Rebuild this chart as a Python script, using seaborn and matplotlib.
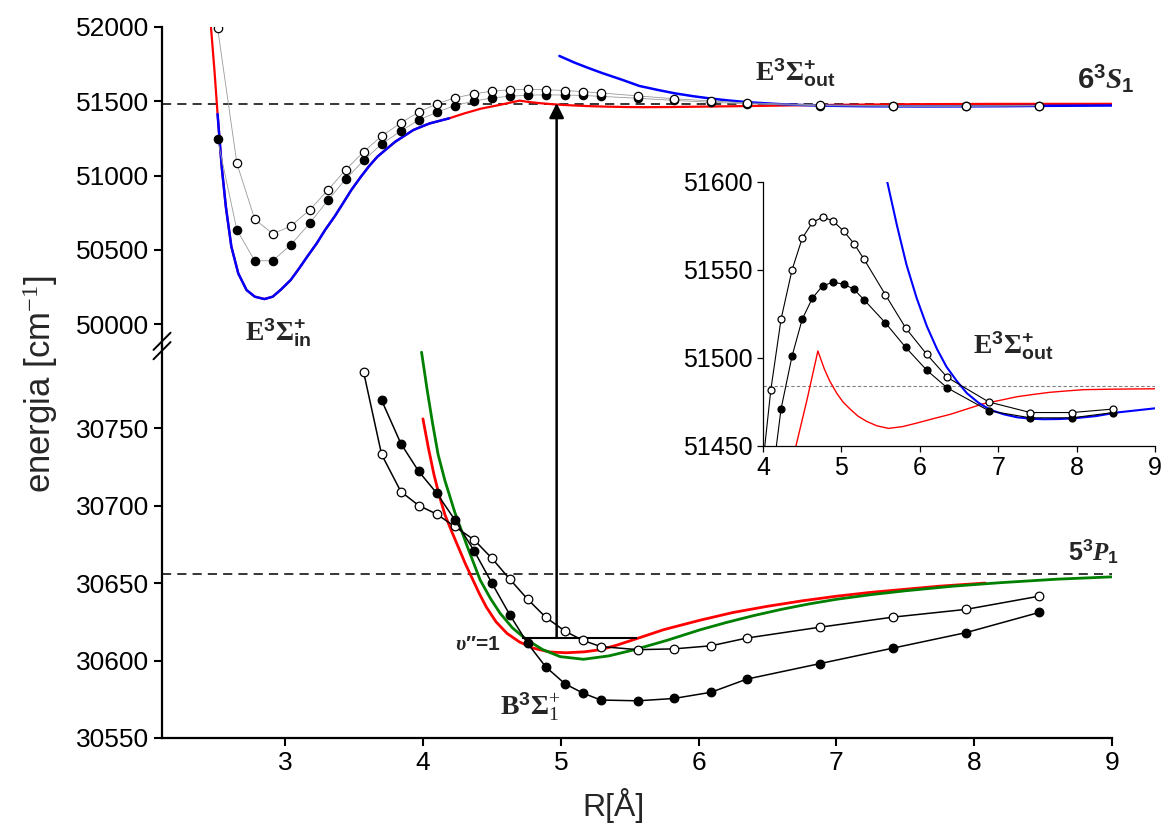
import matplotlib
matplotlib.use("Agg")
import matplotlib.pyplot as plt
from matplotlib.patches import ConnectionPatch
import seaborn as sns

# -------------------
# Data  (R in Angstrom, energies in cm^-1)
# -------------------
# upper state E3Sigma+ : ab initio points
R_up = [2.51, 2.65, 2.78, 2.91, 3.04, 3.18, 3.31, 3.44, 3.57, 3.70, 3.84, 3.97, 4.10, 4.23,
        4.37, 4.50, 4.63, 4.76, 4.89, 5.03, 5.16, 5.29, 5.56, 5.82, 6.09, 6.35, 6.88, 7.41,
        7.94, 8.47]
E_up_open = [51995, 51082, 50705, 50608, 50658, 50770, 50902, 51039, 51160, 51266, 51354,
             51428, 51482, 51522, 51550, 51568, 51577, 51580, 51578, 51572, 51565, 51556,
             51536, 51517, 51502, 51489, 51475, 51469, 51469, 51471]
E_up_full = [51244, 50633, 50426, 50426, 50532, 50680, 50833, 50976, 51102, 51212, 51300,
             51374, 51425, 51471, 51501, 51522, 51534, 51541, 51543, 51542, 51539, 51533,
             51520, 51506, 51493, 51483, 51470, 51466, 51466, 51469]

# inner well (red and blue coincide)
well_R = [2.51, 2.54, 2.57, 2.61, 2.66, 2.72, 2.78, 2.85, 2.91, 2.97, 3.04, 3.10, 3.16,
          3.23, 3.29, 3.36, 3.42, 3.48, 3.55, 3.61, 3.67, 3.74, 3.80, 3.87, 3.93, 4.00,
          4.05, 4.12, 4.19]
well_E = [51414, 51059, 50790, 50521, 50341, 50229, 50184, 50168, 50184, 50232, 50296,
          50372, 50453, 50544, 50633, 50725, 50813, 50902, 50992, 51064, 51127, 51182,
          51228, 51270, 51306, 51333, 51351, 51368, 51385]
red_head_R = [2.462, 2.488]
red_head_E = [52000, 51700]
red_bar_R = [4.30, 4.42, 4.56, 4.70, 4.78, 4.85, 4.94, 5.02, 5.11, 5.21, 5.32, 5.45, 5.60,
             5.78, 5.96, 6.17, 6.39, 6.60, 6.81, 7.03, 7.24, 7.45, 7.66, 7.88, 8.09, 8.50,
             9.00]
red_bar_E = [51418, 51450, 51476, 51504, 51494, 51487, 51480, 51475, 51471, 51467, 51464,
             51461.5, 51460, 51461, 51463, 51465.5, 51468, 51471, 51474, 51476, 51478,
             51479.3, 51480.5, 51481.3, 51482, 51482.3, 51482.5]

# outer well E3Sigma+_out (blue)
out_R = [4.99, 5.10, 5.20, 5.30, 5.45, 5.57, 5.71, 5.83, 5.96, 6.09, 6.22, 6.34, 6.47,
         6.60, 6.75, 6.90, 7.07, 7.24, 7.41, 7.58, 7.77, 7.96, 8.25, 8.51, 9.00]
out_E = [51805, 51760, 51724, 51690, 51643, 51603, 51575, 51553, 51534, 51518, 51505,
         51495, 51487, 51480, 51474.5, 51470.5, 51468, 51466.3, 51465.5, 51465.2, 51465.3,
         51465.7, 51467, 51469, 51471.4]

# lower state B3Sigma+_1 : ab initio points
R_low = [3.57, 3.70, 3.84, 3.97, 4.10, 4.23, 4.37, 4.50, 4.63, 4.76, 4.89, 5.03, 5.16,
         5.29, 5.56, 5.82, 6.09, 6.35, 6.88, 7.41, 7.94, 8.47]
E_low_open = [30786, 30733, 30709, 30700, 30694.5, 30686.5, 30678, 30666, 30652.5,
              30639.5, 30628, 30619, 30613, 30609, 30607, 30607.5, 30609.5, 30614.5,
              30621.5, 30628, 30633, 30641.5]
R_low_full = R_low[1:]
E_low_full = [30768, 30740, 30722, 30708, 30691, 30671, 30650, 30629.5, 30611, 30596,
              30585, 30579, 30574.5, 30574, 30575.5, 30579.5, 30588, 30598, 30608, 30618,
              30631]

redB_R = [4.00, 4.04, 4.08, 4.12, 4.16, 4.21, 4.26, 4.31, 4.36, 4.41, 4.46, 4.53, 4.61,
          4.70, 4.80, 4.92, 5.04, 5.17, 5.29, 5.41, 5.53, 5.75, 6.01, 6.25, 6.50, 6.75,
          7.00, 7.25, 7.50, 7.75, 8.08]
redB_E = [30756, 30737, 30720, 30706, 30694, 30683, 30672.5, 30662, 30652.5, 30643,
          30634.5, 30625, 30617.5, 30612, 30608, 30605.5, 30605, 30605.6, 30607, 30610,
          30613.5, 30620, 30626, 30631, 30635, 30638.5, 30641.5, 30644, 30646, 30648,
          30650]
greenB_R = [3.99, 4.03, 4.07, 4.11, 4.16, 4.23, 4.32, 4.415, 4.49, 4.56, 4.65, 4.754,
            4.87, 4.996, 5.165, 5.35, 5.527, 5.77, 6.01, 6.20, 6.40, 6.60, 6.80, 7.00,
            7.25, 7.50, 7.85, 8.20, 8.60, 9.00]
greenB_E = [30799, 30775, 30753, 30733, 30716, 30696, 30674, 30652, 30640, 30630.5,
            30621, 30613.3, 30607, 30602.5, 30600.8, 30603, 30606.8, 30613, 30619.8,
            30624.5, 30629, 30633, 30636.5, 30639.5, 30642.5, 30645, 30648, 30650.3,
            30652.5, 30654]

E_6S = 51484      # 6 3S1 asymptote
E_5P = 30656      # 5 3P1 asymptote
E_v1 = 30614.6    # v''=1 level
v1_R = [4.72, 5.55]
R_arrow = 4.97

# -------------------
# Style
# -------------------
sns.set_theme(style="ticks")
plt.rcParams['font.family'] = ['Liberation Sans', 'DejaVu Sans']
plt.rcParams['mathtext.fontset'] = 'custom'
plt.rcParams['mathtext.rm'] = 'Liberation Serif'
plt.rcParams['mathtext.it'] = 'Liberation Serif:italic'
plt.rcParams['mathtext.bf'] = 'Liberation Serif:bold'
plt.rcParams['mathtext.sf'] = 'Liberation Sans:bold'
plt.rcParams['mathtext.bfit'] = 'Liberation Serif:italic:bold'

fig = plt.figure(figsize=(11.64, 8.23), dpi=100)
ax_top = fig.add_axes([0.1392, 0.5796, 0.8162, 0.3876])
ax_bot = fig.add_axes([0.1392, 0.1033, 0.8162, 0.4763])
ax_in = fig.add_axes([0.6555, 0.4581, 0.3368, 0.3208])


def points(ax, R, E, face, lc, lw, ms):
    sns.lineplot(x=R, y=E, ax=ax, color=lc, lw=lw, sort=False, estimator=None,
                 marker='o', markersize=ms, markerfacecolor=face,
                 markeredgecolor='black', markeredgewidth=0.9, zorder=3)


def curve(ax, R, E, c, lw, z=2):
    sns.lineplot(x=R, y=E, ax=ax, color=c, lw=lw, sort=False, estimator=None, zorder=z)


red_R = red_head_R + well_R + red_bar_R
red_E = red_head_E + well_E + red_bar_E

# upper panel
ax_top.axhline(E_6S, color='black', lw=1.1, ls=(0, (6, 4)), zorder=1)
curve(ax_top, red_R, red_E, 'red', 1.6)
curve(ax_top, well_R, well_E, 'blue', 1.8, 2.5)
curve(ax_top, out_R, out_E, 'blue', 1.8, 2.5)
points(ax_top, R_up, E_up_full, 'black', '#9a9a9a', 0.6, 6)
points(ax_top, R_up, E_up_open, 'white', '#9a9a9a', 0.6, 6)

# lower panel
ax_bot.axhline(E_5P, color='black', lw=1.1, ls=(0, (6, 4)), zorder=1)
curve(ax_bot, redB_R, redB_E, 'red', 2.0)
curve(ax_bot, greenB_R, greenB_E, 'green', 2.0)
points(ax_bot, R_low, E_low_open, 'white', 'black', 1.1, 6.2)
points(ax_bot, R_low_full, E_low_full, 'black', 'black', 1.1, 6.2)
ax_bot.hlines(E_v1, v1_R[0], v1_R[1], color='black', lw=1.5, zorder=2)

# inset
ax_in.axhline(E_6S, color='gray', lw=0.8, ls=(0, (3, 2)), zorder=1)
curve(ax_in, red_R, red_E, 'red', 1.0)
curve(ax_in, out_R, out_E, 'blue', 1.5, 2.5)
points(ax_in, R_up, E_up_full, 'black', 'black', 0.8, 5)
points(ax_in, R_up, E_up_open, 'white', 'black', 0.8, 5)

# axes
ax_top.set_xlim(2.107, 9)
ax_bot.set_xlim(2.107, 9)
ax_top.set_ylim(49852, 52000)
ax_bot.set_ylim(30550, 30803)
ax_top.set_yticks(range(50000, 52001, 500))
ax_bot.set_yticks(range(30550, 30751, 50))
ax_bot.set_xticks(range(3, 10))
ax_top.spines[['top', 'right', 'bottom']].set_visible(False)
ax_bot.spines[['top', 'right']].set_visible(False)
ax_top.tick_params(axis='x', bottom=False, labelbottom=False)
for ax in (ax_top, ax_bot):
    ax.set_xlabel('')
    ax.set_ylabel('')
    ax.set_facecolor('none')
    for s in ax.spines.values():
        s.set_linewidth(1.6)
        s.set_color('black')
    ax.tick_params(direction='out', length=6, width=1.5, labelsize=19, colors='black')

ax_in.set_xlim(4, 9)
ax_in.set_ylim(51450, 51600)
ax_in.set_xticks(range(4, 10))
ax_in.set_yticks([51450, 51500, 51550, 51600])
ax_in.spines[['top', 'right']].set_visible(False)
for s in ax_in.spines.values():
    s.set_linewidth(0.9)
    s.set_color('black')
ax_in.tick_params(direction='out', length=4, width=0.9, labelsize=18, colors='black')
ax_in.set_facecolor('white')
ax_in.set_xlabel('')
ax_in.set_ylabel('')

# axis break marks on the left spine
for dy in (-0.012, 0.012):
    ax_bot.plot([-0.009, 0.009], [1.0 + dy - 0.022, 1.0 + dy + 0.022], transform=ax_bot.transAxes,
                color='black', lw=1.4, clip_on=False)

# excitation arrow from v''=1 to the upper state
arrow = ConnectionPatch(xyA=(R_arrow, E_v1), coordsA='data', axesA=ax_bot,
                        xyB=(R_arrow, 51488), coordsB='data', axesB=ax_top,
                        arrowstyle='-|>', mutation_scale=22, lw=1.8, color='black')
fig.add_artist(arrow)

# labels
ax_top.text(2.71, 49892, r'$\mathbf{E}^{\mathsf{3}}\mathbf{\Sigma}^{\mathsf{+}}_{\mathsf{in}}$',
            fontsize=20, ha='left', va='baseline', clip_on=False)
ax_top.text(6.41, 51638, r'$\mathbf{E}^{\mathsf{3}}\mathbf{\Sigma}^{\mathsf{+}}_{\mathsf{out}}$',
            fontsize=20, ha='left', va='baseline')
ax_top.text(8.745, 51582, r'$\mathsf{6}^{\mathsf{3}}\mathbfit{S}_{\mathsf{1}}$',
            fontsize=21, ha='left', va='baseline')
ax_bot.text(8.68, 30664.5, r'$\mathsf{5}^{\mathsf{3}}\mathbfit{P}_{\mathsf{1}}$',
            fontsize=18, ha='left', va='baseline')
ax_bot.text(4.56, 30565.3, r'$\mathbf{B}^{\mathsf{3}}\mathbf{\Sigma}^{+}_{1}$',
            fontsize=20, ha='left', va='baseline')
ax_bot.text(4.234, 30606.8, r'$\mathbfit{\upsilon}$' + '\u2033=1',
            fontsize=15, fontweight='bold', ha='left', va='baseline')
ax_in.text(6.675, 51502.3, r'$\mathbf{E}^{\mathsf{3}}\mathbf{\Sigma}^{\mathsf{+}}_{\mathsf{out}}$',
           fontsize=20, ha='left', va='baseline')

fig.text(0.0344, 0.5334, r'energia [cm$^{-1}$]', rotation=90, fontsize=25,
         ha='center', va='center')
fig.text(0.527, 0.0207, 'R[Å]', fontsize=23, ha='center', va='center')

fig.savefig('out.png', dpi=100)
